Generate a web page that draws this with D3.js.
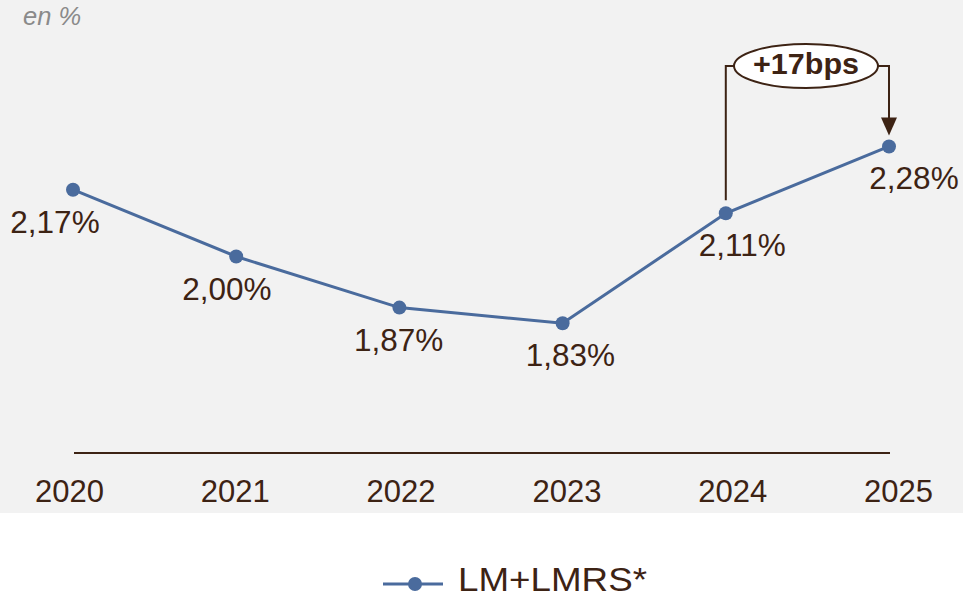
<!DOCTYPE html>
<html><head><meta charset="utf-8">
<script src="https://cdn.jsdelivr.net/npm/d3@7"></script>
<style>
html,body{margin:0;padding:0;background:#fff;}
svg{display:block;font-family:"Liberation Sans",Arial,sans-serif;}
</style></head>
<body>
<svg id="chart" width="963" height="599"></svg>
<script>
const years = ["2020","2021","2022","2023","2024","2025"];
const values = [2.17, 2.00, 1.87, 1.83, 2.11, 2.28];
const valueLabels = ["2,17%","2,00%","1,87%","1,83%","2,11%","2,28%"];
const seriesName = "LM+LMRS*";
const unitLabel = "en %";
const annotationText = "+17bps";

const W = 963, H = 599;
const textCol = "#3d2314";
const lineCol = "#4a6b9d";
const svg = d3.select("#chart");

svg.append("rect").attr("x",0).attr("y",0).attr("width",W).attr("height",513).attr("fill","#f2f2f2");

const x = d3.scalePoint().domain(years).range([73, 889]);
const xTick = d3.scalePoint().domain(years).range([69, 898]);
const xLab = d3.scalePoint().domain(years).range([55, 914]);
const y = d3.scaleLinear().domain([1.5, 2.5]).range([453, 60]);

// unit label
svg.append("text").attr("x",23).attr("y",25).attr("font-size",25.5).attr("font-style","italic")
  .attr("fill","#8a8a8a").text(unitLabel);

// axis
const axis = d3.axisBottom(xTick).tickSize(0).tickPadding(0);
const gAx = svg.append("g").attr("transform","translate(0,502)").call(axis);
gAx.select(".domain").remove();
gAx.selectAll("text").attr("dy",0).attr("font-size",31).attr("fill",textCol)
  .attr("font-family","Liberation Sans, Arial, sans-serif");
svg.append("line").attr("x1",74).attr("x2",x(years[5])+1).attr("y1",y(1.5)).attr("y2",y(1.5))
  .attr("stroke",textCol).attr("stroke-width",2);

// line
const line = d3.line().x((d,i)=>x(years[i])).y(d=>y(d));
svg.append("path").datum(values).attr("d",line).attr("fill","none")
  .attr("stroke",lineCol).attr("stroke-width",3);
svg.selectAll("circle.pt").data(values).enter().append("circle").attr("class","pt")
  .attr("cx",(d,i)=>x(years[i])).attr("cy",d=>y(d)).attr("r",7).attr("fill",lineCol);

// value labels
svg.selectAll("text.vl").data(values).enter().append("text").attr("class","vl")
  .attr("x",(d,i)=>xLab(years[i])).attr("y",d=>y(d)+43)
  .attr("text-anchor","middle").attr("font-size",31.5).attr("fill",textCol)
  .text((d,i)=>valueLabels[i]);

// annotation bracket
const xa = x(years[4]), xb = x(years[5]);
const by = 66, cx = 806, rx = 72, ry = 22;
svg.append("path")
  .attr("d",`M${xa},${y(values[4])-13} L${xa},${by} L${cx-rx},${by}`)
  .attr("fill","none").attr("stroke",textCol).attr("stroke-width",2);
svg.append("path")
  .attr("d",`M${cx+rx},${by} L${xb},${by} L${xb},${y(values[5])-28}`)
  .attr("fill","none").attr("stroke",textCol).attr("stroke-width",2);
svg.append("path")
  .attr("d",`M${xb-8},${y(values[5])-29} L${xb+8},${y(values[5])-29} L${xb},${y(values[5])-11} Z`)
  .attr("fill",textCol);
svg.append("ellipse").attr("cx",cx).attr("cy",by).attr("rx",rx).attr("ry",ry)
  .attr("fill","#fff").attr("stroke",textCol).attr("stroke-width",2);
svg.append("text").attr("x",cx).attr("y",74).attr("text-anchor","middle")
  .attr("font-size",30).attr("font-weight","bold").attr("fill",textCol)
  .attr("textLength",106).attr("lengthAdjust","spacingAndGlyphs").text(annotationText);

// legend
svg.append("line").attr("x1",383).attr("x2",443).attr("y1",584).attr("y2",584)
  .attr("stroke",lineCol).attr("stroke-width",3);
svg.append("circle").attr("cx",415).attr("cy",584).attr("r",7).attr("fill",lineCol);
svg.append("text").attr("x",458).attr("y",591).attr("font-size",34).attr("fill",textCol)
  .attr("textLength",189).attr("lengthAdjust","spacingAndGlyphs").text(seriesName);
</script>
</body></html>
